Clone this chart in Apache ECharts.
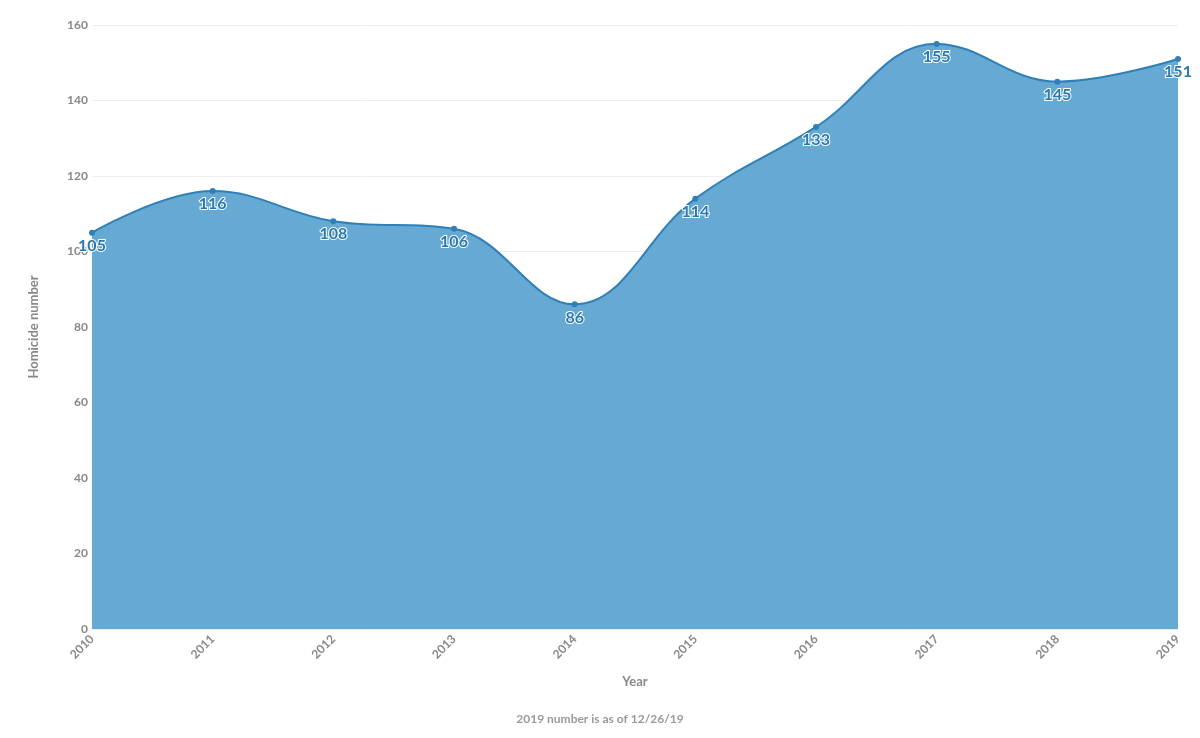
<!DOCTYPE html>
<html>
<head>
<meta charset="utf-8">
<script src="https://cdn.jsdelivr.net/npm/echarts@6/dist/echarts.min.js"></script>
<style>html,body{margin:0;padding:0;background:#fff}#chart{width:1200px;height:738px}</style>
</head>
<body>
<div id="chart"></div>
<script>
const years = ['2010', '2011', '2012', '2013', '2014', '2015', '2016', '2017', '2018', '2019'];
const homicides = [105, 116, 108, 106, 86, 114, 133, 155, 145, 151];

const chart = echarts.init(document.getElementById('chart'), null, { renderer: 'canvas' });
const font = 'Lato, "Open Sans", sans-serif';
chart.setOption({
  animation: false,
  grid: { left: 92, right: 22, top: 25, bottom: 109 },
  graphic: [{
    type: 'text', left: 'center', top: 713,
    style: { text: '2019 number is as of 12/26/19', fill: '#999', font: 'bold 12px ' + font }
  }],
  xAxis: {
    type: 'category', data: years, boundaryGap: false,
    name: 'Year', nameLocation: 'middle', nameGap: 46,
    nameTextStyle: { color: '#888', fontWeight: 'bold', fontSize: 13, fontFamily: font },
    axisLine: { show: false }, axisTick: { show: false },
    axisLabel: { rotate: 45, color: '#888', fontWeight: 'bold', fontSize: 12, fontFamily: font, margin: 8 }
  },
  yAxis: {
    type: 'value', min: 0, max: 160, interval: 20,
    name: 'Homicide number', nameLocation: 'middle', nameGap: 52,
    nameTextStyle: { color: '#888', fontWeight: 'bold', fontSize: 13, fontFamily: font },
    axisLabel: { color: '#888', fontWeight: 'bold', fontSize: 12, fontFamily: font, margin: 4 },
    splitLine: { lineStyle: { color: '#eee' } }
  },
  series: [{
    type: 'line', data: homicides, smooth: 0.4,
    symbol: 'circle', symbolSize: 6,
    itemStyle: { color: '#2f80b8' },
    lineStyle: { color: '#2f80b8', width: 2 },
    areaStyle: { color: '#66a9d3', opacity: 1 },
    label: {
      show: true, position: 'bottom', distance: 2,
      color: '#2a78b0', fontSize: 16, fontWeight: 'bold', fontFamily: font,
      textBorderColor: '#fff', textBorderWidth: 2
    }
  }]
});
</script>
</body>
</html>
